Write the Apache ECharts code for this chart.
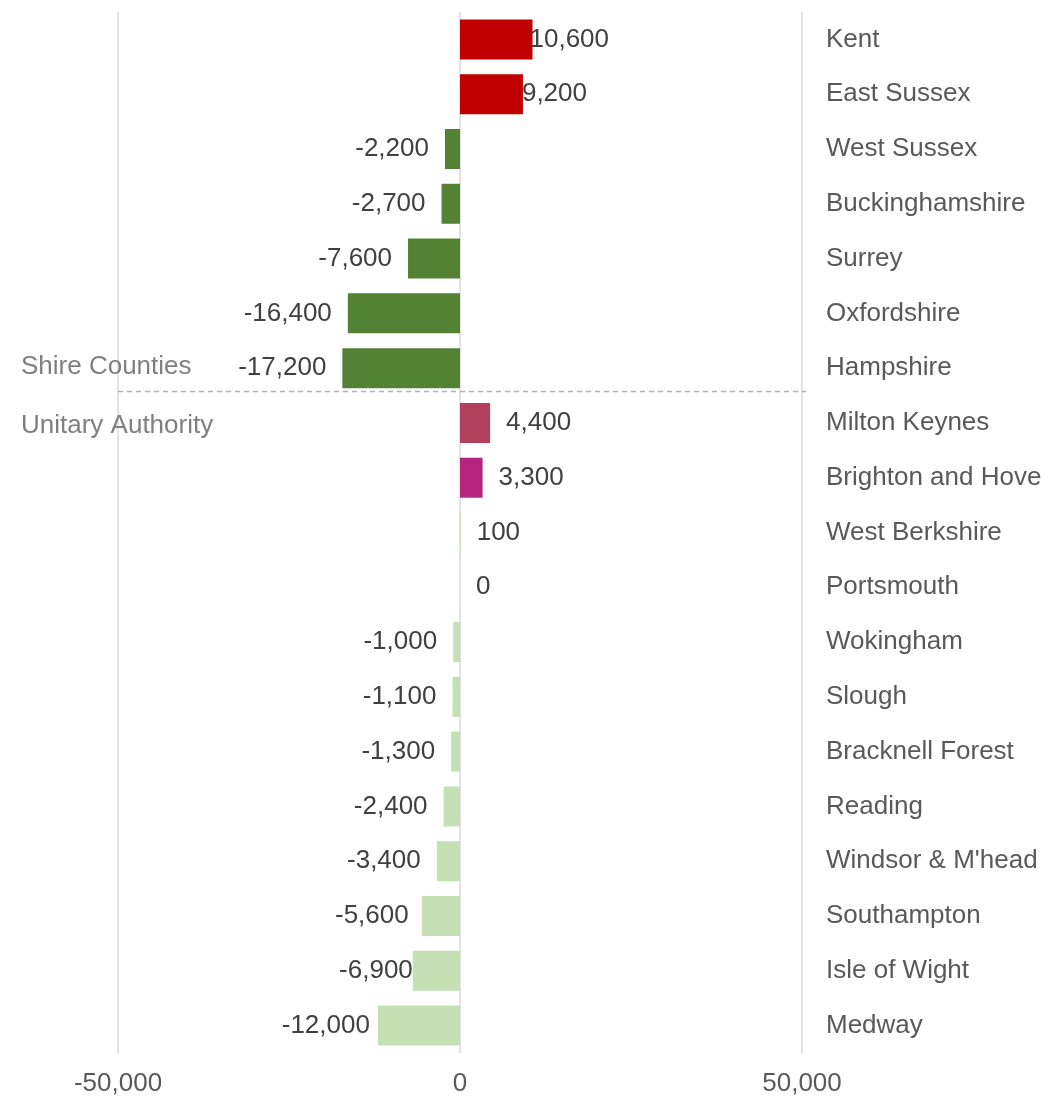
<!DOCTYPE html>
<html>
<head>
<meta charset="utf-8">
<script src="https://cdn.jsdelivr.net/npm/echarts@6/dist/echarts.min.js"></script>
<style>
  html, body { margin: 0; padding: 0; background: #fff; }
  #main { width: 1048px; height: 1098px; }
</style>
</head>
<body>
<div id="main"></div>
<script>
// authorities, top to bottom
var categories = ['Kent', 'East Sussex', 'West Sussex', 'Buckinghamshire', 'Surrey', 'Oxfordshire', 'Hampshire',
    'Milton Keynes', 'Brighton and Hove', 'West Berkshire', 'Portsmouth', 'Wokingham', 'Slough',
    'Bracknell Forest', 'Reading', "Windsor & M'head", 'Southampton', 'Isle of Wight', 'Medway'];
var values = [10600, 9200, -2200, -2700, -7600, -16400, -17200,
    4400, 3300, 100, 0, -1000, -1100, -1300, -2400, -3400, -5600, -6900, -12000];
var groupNames = ['Shire Counties', 'Unitary Authority'];
var xTicks = [-50000, 0, 50000];

// colours per bar
var barColors = ['#C00000', '#C00000', '#548235', '#548235', '#548235', '#548235', '#548235',
    '#B33F5F', '#B5257F', '#C5E0B4', '#C5E0B4', '#C5E0B4', '#C5E0B4', '#C5E0B4', '#C5E0B4',
    '#C5E0B4', '#C5E0B4', '#C5E0B4', '#C5E0B4'];
// some labels were moved by hand in the original
var labelGap = {'Kent': -3, 'East Sussex': -1, 'Southampton': 13, 'Isle of Wight': 0, 'Medway': 8};

var font = "'Liberation Sans', Arial, sans-serif";

function fmt(v) {
    return v.toLocaleString('en-US');
}

var chart = echarts.init(document.getElementById('main'));

var seriesData = values.map(function (v, i) {
    var gap = labelGap[categories[i]];
    return {
        value: v,
        itemStyle: {color: barColors[i]},
        label: {
            position: v < 0 ? 'left' : 'right',
            distance: gap === undefined ? 16 : gap
        }
    };
});

chart.setOption({
    animation: false,
    grid: {left: 118, right: 246, top: 12, bottom: 45},
    xAxis: {
        type: 'value',
        min: xTicks[0],
        max: xTicks[xTicks.length - 1],
        interval: 50000,
        axisLine: {show: false},
        axisTick: {show: false},
        axisLabel: {
            color: '#595959',
            fontSize: 26,
            fontFamily: font,
            margin: 18,
            formatter: fmt
        },
        splitLine: {lineStyle: {color: '#D9D9D9', width: 1.5}}
    },
    yAxis: {
        type: 'category',
        data: categories,
        inverse: true,
        position: 'right',
        axisLine: {show: false},
        axisTick: {show: false},
        splitLine: {show: false},
        axisLabel: {
            color: '#595959',
            fontSize: 26,
            fontFamily: font,
            margin: 24,
            align: 'left'
        }
    },
    series: [{
        type: 'bar',
        data: seriesData,
        barWidth: 40,
        label: {
            show: true,
            color: '#404040',
            fontSize: 26,
            fontFamily: font,
            formatter: function (p) { return fmt(p.value); }
        }
    }]
});

// dashed divider between the two groups, placed from the axes
var yA = chart.convertToPixel({yAxisIndex: 0}, 'Hampshire');
var yB = chart.convertToPixel({yAxisIndex: 0}, 'Milton Keynes');
var lineY = (yA + yB) / 2 - 4;
var x0 = chart.convertToPixel({xAxisIndex: 0}, xTicks[0]);
var x1 = chart.convertToPixel({xAxisIndex: 0}, xTicks[xTicks.length - 1]);

chart.setOption({
    graphic: [
        {
            type: 'line',
            shape: {x1: x0, y1: lineY, x2: x1 + 4, y2: lineY},
            style: {stroke: '#A5B3CC', lineWidth: 1.5, lineDash: [5, 4]},
            silent: true
        },
        {
            type: 'text',
            x: 21,
            y: lineY - 25,
            style: {text: groupNames[0], fill: '#808080', fontSize: 26, fontFamily: font, verticalAlign: 'middle'}
        },
        {
            type: 'text',
            x: 21,
            y: lineY + 34,
            style: {text: groupNames[1], fill: '#808080', fontSize: 26, fontFamily: font, verticalAlign: 'middle'}
        }
    ]
});
</script>
</body>
</html>
